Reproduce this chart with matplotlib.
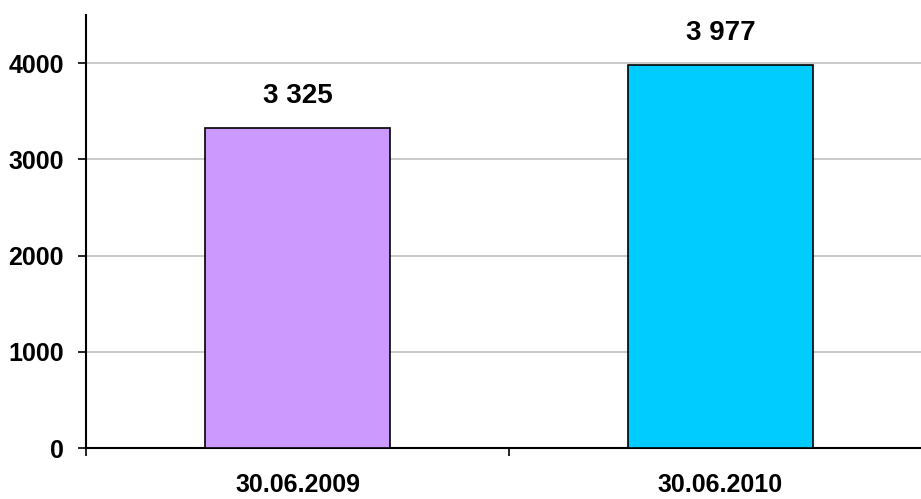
import matplotlib
matplotlib.use("Agg")
import matplotlib.pyplot as plt
import numpy as np

categories = ["30.06.2009", "30.06.2010"]
values = [3325, 3977]
value_labels = ["3 325", "3 977"]
colors = ["#CC99FF", "#00CCFF"]
yticks = [0, 1000, 2000, 3000, 4000]

plt.rcParams['font.family'] = ['Liberation Sans', 'DejaVu Sans']
plt.rcParams['font.weight'] = 'bold'

fig = plt.figure(figsize=(9.21, 4.99), dpi=100)
ax = fig.add_axes([86/921, 51/499, 846/921, 433/499])

x = np.arange(len(categories))
ax.bar(x, values, width=0.435, color=colors, edgecolor='black', linewidth=1.2, zorder=3)

for xi, v, lab in zip(x, values, value_labels):
    ax.annotate(lab, (xi, v), xytext=(0, 14), textcoords='offset points',
                ha='center', va='bottom', fontsize=20, fontweight='bold')

ax.set_xlim(-0.5, 1.5)
ax.set_ylim(0, 4500)
ax.set_yticks(yticks)
ax.set_yticklabels([str(t) for t in yticks], fontsize=18, fontweight='bold')
ax.set_xticks(x)
ax.set_xticklabels(categories, fontsize=18, fontweight='bold')
ax.tick_params(axis='x', which='major', length=0, pad=18)
ax.set_xticks([-0.5, 0.5, 1.5], minor=True)
ax.tick_params(axis='x', which='minor', length=6, width=1.2, direction='out')
ax.tick_params(axis='y', length=6, width=1.2, direction='out', pad=10)

ax.grid(axis='y', color='#c0c0c0', linewidth=1.2, zorder=0)
for s in ['top', 'right']:
    ax.spines[s].set_visible(False)
for s in ['left', 'bottom']:
    ax.spines[s].set_linewidth(1.5)

fig.savefig("out.png", dpi=100)
